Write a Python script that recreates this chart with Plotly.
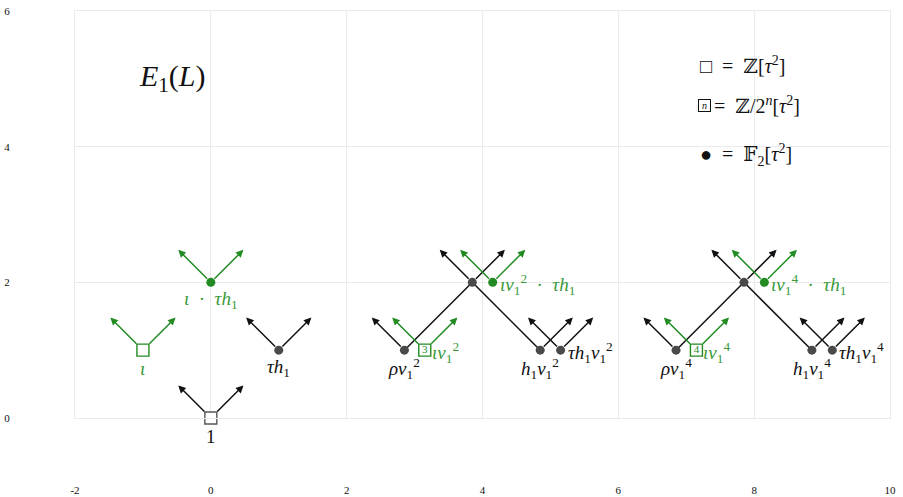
import plotly.graph_objects as go

BLACK = "#111111"
DOT_GRAY = "#4a4a4a"
GREEN = "#228b22"
GREEN_TEXT = "#3a9a3a"
GRID = "#ebebeb"
SERIF = "Liberation Serif, DejaVu Serif, serif"
SP = "\u2002"  # en space, does not collapse

# axes
x_ticks = [-2, 0, 2, 4, 6, 8, 10]
y_ticks = [0, 2, 4, 6]

# generators of E1(L)
node_x = [0, -1, 0, 1, 2.85, 3.15, 3.85, 4.15, 4.85, 5.15, 6.85, 7.15, 7.85, 8.15, 8.85, 9.15]
node_y = [0, 1, 2, 1, 1, 1, 2, 2, 1, 1, 1, 1, 2, 2, 1, 1]
node_kind = ["Z", "Z", "F", "F", "F", "Zn", "F", "F", "F", "F", "F", "Zn", "F", "F", "F", "F"]
node_color = ["b", "g", "g", "b", "b", "g", "b", "g", "b", "b", "b", "g", "b", "g", "b", "b"]
node_box = ["", "", "", "", "", "3", "", "", "", "", "", "4", "", "", "", ""]
node_arrows = ["LR", "LR", "LR", "LR", "L", "LR", "LR", "LR", "R", "LR", "L", "LR", "LR", "LR", "R", "LR"]
node_label = [
    "1",
    "<i>ι</i>",
    "<i>ι</i>" + SP + "·" + SP + "<i>τh</i><sub>1</sub>",
    "<i>τh</i><sub>1</sub>",
    "<i>ρv</i><sub>1</sub><sup>2</sup>",
    "<i>ιv</i><sub>1</sub><sup>2</sup>",
    "",
    "<i>ιv</i><sub>1</sub><sup>2</sup>" + SP + "·" + SP + "<i>τh</i><sub>1</sub>",
    "<i>h</i><sub>1</sub><i>v</i><sub>1</sub><sup>2</sup>",
    "<i>τh</i><sub>1</sub><i>v</i><sub>1</sub><sup>2</sup>",
    "<i>ρv</i><sub>1</sub><sup>4</sup>",
    "<i>ιv</i><sub>1</sub><sup>4</sup>",
    "",
    "<i>ιv</i><sub>1</sub><sup>4</sup>" + SP + "·" + SP + "<i>τh</i><sub>1</sub>",
    "<i>h</i><sub>1</sub><i>v</i><sub>1</sub><sup>4</sup>",
    "<i>τh</i><sub>1</sub><i>v</i><sub>1</sub><sup>4</sup>",
]
node_label_side = ["below", "below", "below", "below", "below", "right", "none", "right",
                   "below", "right", "below", "right", "none", "right", "below", "right"]

# h1-type connecting lines (index pairs)
seg_from = [4, 8, 10, 14]
seg_to = [6, 6, 12, 12]

ARROW_LEN = 0.48

fig = go.Figure()

# connecting lines
for a, b in zip(seg_from, seg_to):
    fig.add_trace(go.Scatter(
        x=[node_x[a], node_x[b]], y=[node_y[a], node_y[b]],
        mode="lines", line=dict(color=BLACK, width=1.5),
        hoverinfo="skip", showlegend=False, cliponaxis=False))

annotations = []
# arrows
for i in range(len(node_x)):
    col = BLACK if node_color[i] == "b" else GREEN
    ss = 7 if node_kind[i] in ("Z", "Zn") else 3
    for d in node_arrows[i]:
        dx = -ARROW_LEN if d == "L" else ARROW_LEN
        annotations.append(dict(
            x=node_x[i] + dx, y=node_y[i] + ARROW_LEN, xref="x", yref="y",
            ax=node_x[i], ay=node_y[i], axref="x", ayref="y",
            showarrow=True, arrowhead=2, arrowsize=1.0, arrowwidth=1.5,
            arrowcolor=col, startstandoff=ss, text=""))

# markers
for kind in ("F", "Z", "Zn"):
    idx = [i for i in range(len(node_x)) if node_kind[i] == kind]
    if not idx:
        continue
    if kind == "F":
        colors = [DOT_GRAY if node_color[i] == "b" else GREEN for i in idx]
        fig.add_trace(go.Scatter(
            x=[node_x[i] for i in idx], y=[node_y[i] for i in idx], mode="markers",
            marker=dict(symbol="circle", size=9, color=colors, line=dict(width=0)),
            hoverinfo="skip", showlegend=False, cliponaxis=False))
    else:
        colors = ["#555555" if node_color[i] == "b" else GREEN for i in idx]
        fig.add_trace(go.Scatter(
            x=[node_x[i] for i in idx], y=[node_y[i] for i in idx],
            mode="markers+text", text=[node_box[i] for i in idx],
            textposition="middle center",
            textfont=dict(family=SERIF, size=11, color=colors),
            marker=dict(symbol="square", size=12, color="white",
                        line=dict(width=1.4, color=colors)),
            hoverinfo="skip", showlegend=False, cliponaxis=False))

# labels
LABEL_SIZE = 19
for i in range(len(node_x)):
    side = node_label_side[i]
    if side == "none":
        continue
    col = BLACK if node_color[i] == "b" else GREEN_TEXT
    if side == "below":
        annotations.append(dict(
            x=node_x[i], y=node_y[i], xref="x", yref="y", showarrow=False,
            text=node_label[i], xanchor="center", yanchor="middle",
            yshift=-18, font=dict(family=SERIF, size=LABEL_SIZE, color=col)))
    else:
        annotations.append(dict(
            x=node_x[i], y=node_y[i], xref="x", yref="y", showarrow=False,
            text=node_label[i], xanchor="left", yanchor="middle",
            xshift=5, yshift=-2, font=dict(family=SERIF, size=LABEL_SIZE, color=col)))

# title and key
KEY_SIZE = 20
annotations.append(dict(x=-0.57, y=5.01, xref="x", yref="y", showarrow=False,
                        text="<i>E</i><sub>1</sub>(<i>L</i>)", xanchor="center", yanchor="middle",
                        font=dict(family=SERIF, size=30, color=BLACK)))
annotations.append(dict(x=7.17, y=5.2, xref="x", yref="y", showarrow=False,
                        text="□" + SP + "=" + SP + "ℤ[<i>τ</i><sup>2</sup>]", xanchor="left", yanchor="middle",
                        font=dict(family=SERIF, size=KEY_SIZE, color=BLACK)))
annotations.append(dict(x=7.18, y=4.6, xref="x", yref="y", showarrow=False,
                        text="<i>n</i>", xanchor="left", yanchor="middle",
                        width=11, height=11,
                        bordercolor=BLACK, borderwidth=1, borderpad=0,
                        font=dict(family=SERIF, size=10, color=BLACK)))
annotations.append(dict(x=7.17, y=4.61, xref="x", yref="y", showarrow=False,
                        text="=" + SP + "ℤ/2<sup><i>n</i></sup>[<i>τ</i><sup>2</sup>]", xanchor="left", yanchor="middle",
                        xshift=14, font=dict(family=SERIF, size=KEY_SIZE, color=BLACK)))
annotations.append(dict(x=7.17, y=3.88, xref="x", yref="y", showarrow=False,
                        text="●" + SP + "=" + SP + "𝔽<sub>2</sub>[<i>τ</i><sup>2</sup>]", xanchor="left", yanchor="middle",
                        font=dict(family=SERIF, size=KEY_SIZE, color=BLACK)))

fig.update_layout(
    width=903, height=497,
    margin=dict(l=75, r=13, t=11, b=79, autoexpand=False),
    paper_bgcolor="white", plot_bgcolor="white",
    annotations=annotations,
    showlegend=False,
)
fig.update_xaxes(range=[-2, 10], tickvals=x_ticks, ticktext=[str(v) for v in x_ticks],
                 showgrid=True, gridcolor=GRID, gridwidth=1, zeroline=False,
                 showline=True, mirror=True, linecolor=GRID, linewidth=1,
                 ticks="", ticklabelstandoff=62, automargin=False,
                 tickfont=dict(family=SERIF, size=11, color=BLACK))
fig.update_yaxes(range=[0, 6], tickvals=y_ticks, ticktext=[str(v) for v in y_ticks],
                 showgrid=True, gridcolor=GRID, gridwidth=1, zeroline=False,
                 showline=True, mirror=True, linecolor=GRID, linewidth=1,
                 ticks="", ticklabelstandoff=62, automargin=False,
                 tickfont=dict(family=SERIF, size=11, color=BLACK))

fig.write_html("out.html", config={"displayModeBar": False},
               post_script="document.body.style.margin='0';document.body.style.padding='0';")
